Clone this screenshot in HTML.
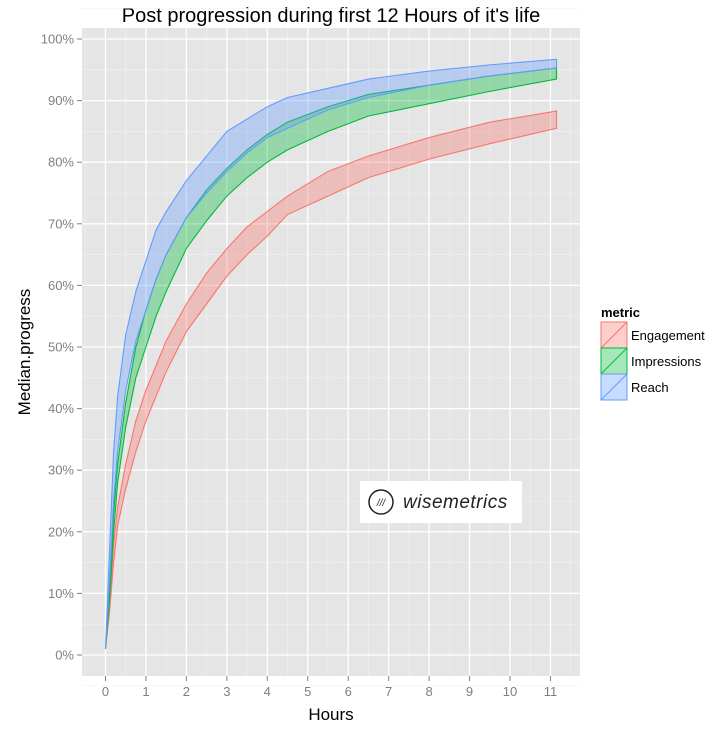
<!DOCTYPE html>
<html><head><meta charset="utf-8"><style>
body{margin:0;background:#fff;font-family:"Liberation Sans",sans-serif}
svg text{font-family:"Liberation Sans",sans-serif}
</style></head><body>
<svg id="c" width="716" height="736" xmlns="http://www.w3.org/2000/svg">
<text x="331" y="22" font-size="20" text-anchor="middle" fill="#000">Post progression during first 12 Hours of it's life</text>
<rect x="82" y="28" width="498" height="648" fill="#e5e5e5"/>
<g id="grid"></g><g id="series"></g><g id="axes"></g>
<text x="331" y="720" font-size="17" text-anchor="middle">Hours</text>
<text transform="translate(30,352) rotate(-90)" font-size="17" text-anchor="middle">Median.progress</text>
<g>
<rect x="360" y="481" width="162" height="42" fill="#fff"/>
<circle cx="381" cy="502" r="12" fill="none" stroke="#222" stroke-width="1.5"/>
<text x="381" y="506" font-size="10" text-anchor="middle" font-style="italic" fill="#222">///</text>
<text x="403" y="508" font-size="19" font-style="italic" fill="#222" letter-spacing="0.5">wisemetrics</text>
</g>
<g>
<text x="601" y="317" font-size="13" font-weight="bold">metric</text>
<g id="legend"></g>
</g>
</svg>
<script>
const hours=[0,0.1,0.2,0.3,0.5,0.75,1,1.25,1.5,2,2.5,3,3.5,4,4.5,5.5,6.5,8,9.5,11.15];
const engagementHigh=[1,8,18,24,31,38,43,47,51,57,62,66,69.5,72,74.5,78.5,81,84,86.5,88.3];
const engagementLow=[1,7,15,21,27,33,38,42,46,52.5,57,61.5,65,68,71.5,74.5,77.5,80.5,83,85.5];
const impressionsHigh=[1,11,23,31,41,50,56,61,65,71,75.5,79,82,84.5,86.5,89,91,92.5,94,95.3];
const impressionsLow=[1,9,20,28,37,45,50,55,59,66,70.5,74.5,77.5,80,82,85,87.5,89.5,91.5,93.5];
const reachHigh=[1,17,33,42,52,59,64,69,72,77,81,85,87,89,90.5,92,93.5,94.8,95.8,96.7];
const reachLow=[1,12,25,33,43,51,56,61,65,71,75,78.5,81.5,84,85.5,88.5,90.5,92.5,94,95.3];
const xTicks=[0,1,2,3,4,5,6,7,8,9,10,11];
const yTicks=[0,10,20,30,40,50,60,70,80,90,100];
const seriesNames=["Engagement","Impressions","Reach"];
const NS="http://www.w3.org/2000/svg";
const X=h=>105.5+h*40.45, Y=v=>655-v*6.16;
function mk(t,a,p){const e=document.createElementNS(NS,t);for(const k in a)e.setAttribute(k,a[k]);p.appendChild(e);return e;}
const grid=document.getElementById('grid'),axes=document.getElementById('axes');
for(let i=-0.5;i<=11.5;i+=1){const l=mk('line',{x1:X(i),x2:X(i),y1:28,y2:676,stroke:'#f2f2f2','stroke-width':0.6},grid);

}
for(let v=-5;v<=105;v+=10){const l=mk('line',{x1:82,x2:580,y1:Y(v),y2:Y(v),stroke:'#f2f2f2','stroke-width':0.6},grid);

}
xTicks.forEach(h=>{const l=mk('line',{x1:X(h),x2:X(h),y1:28,y2:676,stroke:'#fff','stroke-width':1.3},grid);


const tk=mk('line',{x1:X(h),x2:X(h),y1:676,y2:681,stroke:'#7f7f7f'},axes);


const t=mk('text',{x:X(h),y:696,'font-size':13,'text-anchor':'middle',fill:'#7f7f7f'},axes);t.textContent=h;

});
yTicks.forEach(v=>{const l=mk('line',{x1:82,x2:580,y1:Y(v),y2:Y(v),stroke:'#fff','stroke-width':1.3},grid);


const tk=mk('line',{x1:77,x2:82,y1:Y(v),y2:Y(v),stroke:'#7f7f7f'},axes);


const t=mk('text',{x:74,y:Y(v)+4.5,'font-size':13,'text-anchor':'end',fill:'#7f7f7f'},axes);t.textContent=v+'%';

});
const ser=document.getElementById('series');
const cfg=[[engagementLow,engagementHigh,'#f8766d'],[impressionsLow,impressionsHigh,'#00ba38'],[reachLow,reachHigh,'#619cff']];
cfg.forEach(([lo,hi,c],i)=>{
let d='M'+hours.map((h,j)=>X(h)+','+Y(hi[j])).join('L');
for(let j=hours.length-1;j>=0;j--)d+='L'+X(hours[j])+','+Y(lo[j]);d+='Z';
const p=mk('path',{d:d,fill:c,'fill-opacity':0.35,stroke:c,'stroke-width':1.1},ser);


const g=document.getElementById('legend');const y=322+i*26;
const r=mk('rect',{x:601,y:y,width:26,height:26,fill:c,'fill-opacity':0.35,stroke:c},g);


mk('line',{x1:601,y1:y+26,x2:627,y2:y,stroke:c},g);
const t=mk('text',{x:631,y:y+18,'font-size':13},g);t.textContent=seriesNames[i];


});
</script>
</body></html>
